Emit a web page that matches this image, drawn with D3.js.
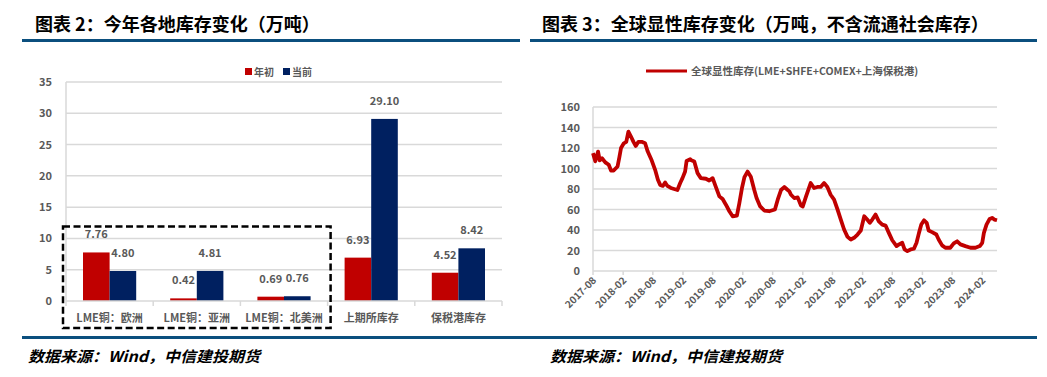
<!DOCTYPE html>
<html>
<head>
<meta charset="utf-8">
<script src="https://cdn.jsdelivr.net/npm/d3@7"></script>
<style>
body { margin: 0; background: #fff; }
svg { display: block; font-family: "Noto Sans CJK SC", "Open Sans", sans-serif; }
</style>
</head>
<body>
<svg id="chart" width="1047" height="377"></svg>
<script>
// left chart data
var categories = ['LME铜：欧洲', 'LME铜：亚洲', 'LME铜：北美洲', '上期所库存', '保税港库存'];
var seriesNames = ['年初', '当前'];
var startValues = [7.76, 0.42, 0.69, 6.93, 4.52];
var currentValues = [4.80, 4.81, 0.76, 29.10, 8.42];
var barTicks = [0, 5, 10, 15, 20, 25, 30, 35];

// right chart data
var stockName = '全球显性库存(LME+SHFE+COMEX+上海保税港)';
var stockDates = [
  '2017-08-01', '2017-08-15', '2017-09-01', '2017-09-11', '2017-09-25', '2017-10-15', '2017-11-05', '2017-11-19',
  '2017-12-05', '2017-12-29', '2018-01-09', '2018-01-19', '2018-02-05', '2018-02-20', '2018-03-05', '2018-03-19',
  '2018-04-05', '2018-04-19', '2018-05-05', '2018-05-25', '2018-06-15', '2018-07-01', '2018-07-25', '2018-08-15',
  '2018-09-01', '2018-09-15', '2018-10-01', '2018-10-15', '2018-10-29', '2018-11-19', '2018-12-09', '2018-12-29',
  '2019-01-15', '2019-01-29', '2019-02-14', '2019-02-23', '2019-03-17', '2019-03-24', '2019-04-11', '2019-05-01',
  '2019-05-21', '2019-06-21', '2019-07-11', '2019-08-01', '2019-08-21', '2019-09-11', '2019-10-01', '2019-10-21',
  '2019-11-11', '2019-12-01', '2019-12-27', '2020-01-11', '2020-01-27', '2020-02-11', '2020-03-01', '2020-03-21',
  '2020-04-11', '2020-04-25', '2020-05-17', '2020-06-11', '2020-07-11', '2020-08-15', '2020-09-01', '2020-09-21',
  '2020-10-11', '2020-11-01', '2020-11-11', '2020-11-21', '2020-12-11', '2021-01-01', '2021-01-21', '2021-02-01',
  '2021-02-21', '2021-03-21', '2021-04-11', '2021-05-01', '2021-05-21', '2021-06-11', '2021-07-01', '2021-07-21',
  '2021-08-11', '2021-09-01', '2021-09-21', '2021-10-11', '2021-11-01', '2021-11-21', '2021-12-11', '2022-01-01',
  '2022-01-21', '2022-02-11', '2022-03-01', '2022-03-17', '2022-04-01', '2022-04-21', '2022-05-11', '2022-06-01',
  '2022-06-21', '2022-07-11', '2022-08-01', '2022-08-27', '2022-09-11', '2022-10-01', '2022-10-15', '2022-11-01',
  '2022-11-21', '2022-12-11', '2022-12-27', '2023-01-11', '2023-01-25', '2023-02-11', '2023-02-27', '2023-03-11',
  '2023-04-01', '2023-04-27', '2023-05-11', '2023-06-01', '2023-06-21', '2023-07-21', '2023-08-11', '2023-09-01',
  '2023-09-21', '2023-10-21', '2023-11-21', '2023-12-21', '2024-01-17', '2024-02-01', '2024-02-11', '2024-02-27',
  '2024-03-17', '2024-04-01', '2024-04-15', '2024-05-01'
];
var stockValues = [
  115, 107, 116.5, 108, 110, 106, 103.6, 98,
  98, 102, 111, 120, 124.6, 126, 136, 131.7,
  126, 122, 126, 126, 124.6, 116.5, 108, 98.7,
  89, 84, 83, 86.4, 83, 81, 80, 79,
  85.8, 90.6, 97, 107.4, 109, 108, 106.8, 95.5,
  90.6, 90, 88.3, 90.6, 81.9, 72.8, 70.2, 64.7,
  58.3, 53.4, 54, 66.3, 81, 91.6, 97, 92,
  79, 71.2, 63, 59, 58.3, 60, 69.6, 79,
  81.9, 79, 77.7, 74.4, 71.2, 71.8, 63.8, 63,
  72.8, 85.8, 81, 82, 82, 85.8, 82, 74.4,
  69.6, 60, 50.2, 40.5, 33.3, 30.7, 32.4, 35.6,
  39.5, 53.4, 50.2, 47, 50.2, 55, 48.5, 45.3,
  44.3, 37.2, 30, 24.3, 25.9, 27.5, 21, 19.4,
  21, 21.7, 27.5, 37.2, 45.3, 49.5, 47, 39.5,
  37.9, 35.6, 30.7, 25, 22.7, 22.7, 26.9, 29,
  26, 24.3, 22.7, 22.7, 24.3, 27.5, 37.2, 45.3,
  50.8, 51.8, 50.2, 49.5
];
var stockTicks = [0, 20, 40, 60, 80, 100, 120, 140, 160];
var dateTickLabels = ['2017-08', '2018-02', '2018-08', '2019-02', '2019-08', '2020-02', '2020-08',
  '2021-02', '2021-08', '2022-02', '2022-08', '2023-02', '2023-08', '2024-02'];

var RED = '#c00000', NAVY = '#002060', GREY = '#595959', GRID = '#d9d9d9', RULE = '#0b4f7e';

var svg = d3.select('#chart');

// ---------- frame: titles, rules, sources ----------
svg.append('text').attr('x', 35).attr('y', 31)
  .attr('font-size', 18).attr('font-weight', 700).attr('fill', '#000')
  .text('图表 2：今年各地库存变化（万吨）');
svg.append('text').attr('x', 542).attr('y', 31)
  .attr('font-size', 18).attr('font-weight', 700).attr('fill', '#000')
  .text('图表 3：全球显性库存变化（万吨，不含流通社会库存）');

svg.append('rect').attr('x', 22).attr('y', 39).attr('width', 498).attr('height', 3).attr('fill', RULE);
svg.append('rect').attr('x', 530).attr('y', 39).attr('width', 507).attr('height', 3).attr('fill', RULE);
svg.append('rect').attr('x', 22).attr('y', 336).attr('width', 1015).attr('height', 3).attr('fill', RULE);

[28, 550].forEach(function(x) {
  svg.append('text').attr('x', x).attr('y', 362)
    .attr('font-size', 15).attr('font-weight', 700).attr('font-style', 'italic').attr('fill', '#000')
    .attr('textLength', 232).attr('lengthAdjust', 'spacingAndGlyphs')
    .text('数据来源：Wind，中信建投期货');
});

// ---------- left: grouped bars ----------
var x0 = d3.scaleBand().domain(categories).range([66, 502]).paddingInner(0.39).paddingOuter(0.195);
var x1 = d3.scaleBand().domain(seriesNames).range([0, x0.bandwidth()]);
var yBar = d3.scaleLinear().domain([0, 35]).range([301, 82]);

var left = svg.append('g');

left.selectAll('.grid').data(barTicks.slice(1)).enter().append('line')
  .attr('x1', 66).attr('x2', 502)
  .attr('y1', function(d) { return yBar(d); }).attr('y2', function(d) { return yBar(d); })
  .attr('stroke', GRID).attr('stroke-width', 1.5);

left.append('line').attr('x1', 66).attr('x2', 66).attr('y1', yBar(35)).attr('y2', yBar(0))
  .attr('stroke', GRID).attr('stroke-width', 1.5);

left.selectAll('.ylab').data(barTicks).enter().append('text')
  .attr('x', 52).attr('y', function(d) { return yBar(d) + 4; })
  .attr('text-anchor', 'end').attr('font-size', 11).attr('font-weight', 700).attr('fill', GREY)
  .text(function(d) { return d; });

var rows = categories.map(function(c, i) {
  return { cat: c, vals: [startValues[i], currentValues[i]] };
});
var colors = [RED, NAVY];

var groups = left.selectAll('.grp').data(rows).enter().append('g')
  .attr('transform', function(d) { return 'translate(' + x0(d.cat) + ',0)'; });

groups.selectAll('rect').data(function(d) { return d.vals; }).enter().append('rect')
  .attr('x', function(d, i) { return x1(seriesNames[i]); })
  .attr('width', x1.bandwidth())
  .attr('y', function(d) { return yBar(d); })
  .attr('height', function(d) { return yBar(0) - yBar(d); })
  .attr('fill', function(d, i) { return colors[i]; });

groups.selectAll('.val').data(function(d) { return d.vals; }).enter().append('text')
  .attr('x', function(d, i) { return x1(seriesNames[i]) + x1.bandwidth() / 2; })
  .attr('y', function(d) { return yBar(d) - 14; })
  .attr('text-anchor', 'middle').attr('font-size', 11).attr('font-weight', 700).attr('fill', GREY)
  .text(function(d) { return d.toFixed(2); });

// x axis line and ticks between categories
left.append('line').attr('x1', 66).attr('x2', 502).attr('y1', yBar(0)).attr('y2', yBar(0))
  .attr('stroke', GRID).attr('stroke-width', 1.5);
var bounds = categories.map(function(c) { return x0(c) - x0.step() * x0.paddingOuter(); }).concat([502]);
left.selectAll('.xt').data(bounds).enter().append('line')
  .attr('x1', function(d) { return d; }).attr('x2', function(d) { return d; })
  .attr('y1', yBar(0)).attr('y2', yBar(0) + 5)
  .attr('stroke', GRID).attr('stroke-width', 1.5);

left.selectAll('.xlab').data(categories).enter().append('text')
  .attr('x', function(d) { return x0(d) + x0.bandwidth() / 2; })
  .attr('y', 322)
  .attr('text-anchor', 'middle').attr('font-size', 11).attr('font-weight', 700).attr('fill', GREY)
  .text(function(d) { return d; });

// legend
var lg = left.append('g');
[[245, 0], [283, 1]].forEach(function(p) {
  lg.append('rect').attr('x', p[0]).attr('y', 68).attr('width', 7).attr('height', 7).attr('fill', colors[p[1]]);
  lg.append('text').attr('x', p[0] + 9).attr('y', 76)
    .attr('font-size', 10).attr('font-weight', 700).attr('fill', GREY).text(seriesNames[p[1]]);
});

// dashed highlight box around the LME groups
left.append('rect')
  .attr('x', 63).attr('y', yBar(11.9))
  .attr('width', bounds[3] + 3 - 63).attr('height', yBar(0) + 27 - yBar(11.9))
  .attr('fill', 'none').attr('stroke', '#000').attr('stroke-width', 2.5).attr('stroke-dasharray', '7,3.5');

// ---------- right: line chart ----------
var parseDay = d3.timeParse('%Y-%m-%d'), parseMonth = d3.timeParse('%Y-%m');
var series = stockDates.map(function(d, i) { return { date: parseDay(d), value: stockValues[i] }; });
var xTime = d3.scaleTime().domain([parseDay('2017-08-01'), parseDay('2024-05-01')]).range([593, 997]);
var yStock = d3.scaleLinear().domain([0, 160]).range([271, 107]);

var right = svg.append('g');

right.selectAll('.grid').data(stockTicks.slice(1)).enter().append('line')
  .attr('x1', 593).attr('x2', 997)
  .attr('y1', function(d) { return yStock(d); }).attr('y2', function(d) { return yStock(d); })
  .attr('stroke', GRID).attr('stroke-width', 1.5);
right.append('line').attr('x1', 593).attr('x2', 593).attr('y1', yStock(160)).attr('y2', yStock(0))
  .attr('stroke', GRID).attr('stroke-width', 1.5);
right.append('line').attr('x1', 593).attr('x2', 997).attr('y1', yStock(0)).attr('y2', yStock(0))
  .attr('stroke', GRID).attr('stroke-width', 1.5);

right.selectAll('.ylab').data(stockTicks).enter().append('text')
  .attr('x', 580).attr('y', function(d) { return yStock(d) + 4; })
  .attr('text-anchor', 'end').attr('font-size', 11).attr('font-weight', 700).attr('fill', GREY)
  .text(function(d) { return d; });

var tickDates = dateTickLabels.map(function(s) { return parseMonth(s); });
right.selectAll('.xt').data(tickDates).enter().append('line')
  .attr('x1', function(d) { return xTime(d); }).attr('x2', function(d) { return xTime(d); })
  .attr('y1', yStock(0)).attr('y2', yStock(0) + 4)
  .attr('stroke', GRID).attr('stroke-width', 1.5);
right.selectAll('.xlab').data(dateTickLabels).enter().append('text')
  .attr('transform', function(d, i) {
    return 'translate(' + (xTime(tickDates[i]) + 4) + ',' + (yStock(0) + 10) + ') rotate(-45)';
  })
  .attr('text-anchor', 'end').attr('font-size', 10).attr('font-weight', 700).attr('fill', GREY)
  .text(function(d) { return d; });

right.append('path').datum(series)
  .attr('fill', 'none').attr('stroke', RED).attr('stroke-width', 3.8).attr('stroke-linejoin', 'round')
  .attr('d', d3.line().x(function(d) { return xTime(d.date); }).y(function(d) { return yStock(d.value); }));

right.append('line').attr('x1', 646).attr('x2', 687).attr('y1', 71).attr('y2', 71)
  .attr('stroke', RED).attr('stroke-width', 3);
right.append('text').attr('x', 691).attr('y', 75)
  .attr('font-size', 10.5).attr('font-weight', 700).attr('fill', GREY).text(stockName);
</script>
</body>
</html>
